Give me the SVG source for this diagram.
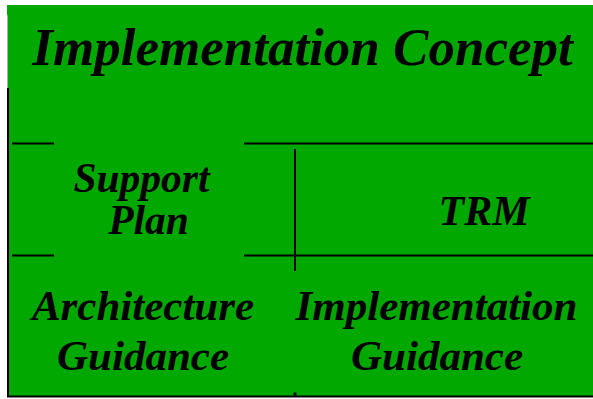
<svg xmlns="http://www.w3.org/2000/svg" width="593" height="399" viewBox="0 0 593 399">
<style>
.t{font-family:"Liberation Serif","Times New Roman",serif;font-weight:bold;font-style:italic;fill:#000;text-anchor:middle}
.ln{stroke:#000;stroke-width:2;fill:none}
</style>
<rect x="0" y="0" width="593" height="399" fill="#fff"/>
<rect id="bg" x="7" y="5" width="586" height="392" fill="#00A800"/>
<g id="frame">
<line x1="7.5" y1="15" x2="7.5" y2="88" stroke="#b0b0b0" stroke-width="1"/>
<line class="ln" x1="8" y1="88" x2="8" y2="397"/>
<line class="ln" x1="7" y1="396.5" x2="593" y2="396.5"/>
</g>
<g id="connectors">
<line class="ln" x1="12" y1="143.5" x2="54" y2="143.5"/>
<line class="ln" x1="244" y1="143.5" x2="593" y2="143.5"/>
<line class="ln" x1="12" y1="255.5" x2="54" y2="255.5"/>
<line class="ln" x1="244" y1="255.5" x2="593" y2="255.5"/>
<line class="ln" x1="295" y1="149" x2="295" y2="271"/>
<rect x="293.5" y="392.5" width="3" height="3" fill="#000"/>
</g>
<g id="title"><text class="t" x="302.5" y="65" font-size="53">Implementation Concept</text></g>
<g id="support"><text class="t" x="141.5" y="192" font-size="41.5">Support</text><text class="t" x="148.5" y="234" font-size="41.5">Plan</text></g>
<g id="trm"><text class="t" x="484" y="225" font-size="42">TRM</text></g>
<g id="arch"><text class="t" x="143" y="320" font-size="43">Architecture</text><text class="t" x="143" y="370" font-size="43">Guidance</text></g>
<g id="impl"><text class="t" x="436.5" y="320" font-size="43">Implementation</text><text class="t" x="437" y="370" font-size="43">Guidance</text></g>
</svg>
